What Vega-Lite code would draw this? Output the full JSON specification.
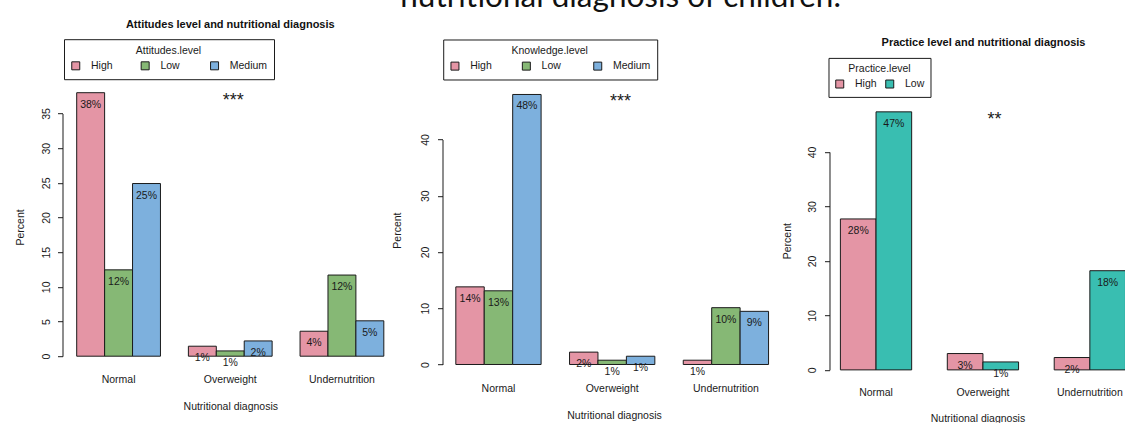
{
  "$schema": "https://vega.github.io/schema/vega-lite/v6.json",
  "background": "white",
  "padding": {"left": 15.5, "top": -38.8, "right": -1, "bottom": 2},
  "spacing": 44,
  "bounds": "flush",
  "config": {
    "font": "Liberation Sans",
    "view": {"stroke": null},
    "axis": {"labelFont": "Liberation Sans", "labelFontSize": 10.5, "labelColor": "#1a1a1a", "titleFont": "Liberation Sans", "titleFontSize": 10.5, "titleFontWeight": "normal", "titleColor": "#1a1a1a", "domainColor": "#1a1a1a", "tickColor": "#1a1a1a", "grid": false, "labelFlush": false, "labelOverlap": false},
    "legend": {"labelFont": "Liberation Sans", "labelFontSize": 10.5, "labelColor": "#1a1a1a", "titleFont": "Liberation Sans", "titleFontSize": 10.5, "titleFontWeight": "normal", "titleColor": "#1a1a1a", "strokeColor": "#1a1a1a", "symbolType": "square", "symbolSize": 64, "symbolStrokeColor": "#1a1a1a", "symbolStrokeWidth": 1, "labelOffset": 10, "titleAnchor": "middle", "titlePadding": 4, "direction": "horizontal", "orient": "none", "gridAlign": "all"},
    "title": {"font": "Liberation Sans", "fontSize": 11, "fontWeight": "bold", "color": "#111"}
  },
  "datasets": {
    "attitudes": [
      {"diagnosis": "Normal", "level": "High", "percent": 38.0, "label": "38%"},
      {"diagnosis": "Normal", "level": "Low", "percent": 12.45, "label": "12%"},
      {"diagnosis": "Normal", "level": "Medium", "percent": 24.9, "label": "25%"},
      {"diagnosis": "Overweight", "level": "High", "percent": 1.44, "label": "1%"},
      {"diagnosis": "Overweight", "level": "Low", "percent": 0.76, "label": "1%"},
      {"diagnosis": "Overweight", "level": "Medium", "percent": 2.2, "label": "2%"},
      {"diagnosis": "Undernutrition", "level": "High", "percent": 3.6, "label": "4%"},
      {"diagnosis": "Undernutrition", "level": "Low", "percent": 11.7, "label": "12%"},
      {"diagnosis": "Undernutrition", "level": "Medium", "percent": 5.1, "label": "5%"}
    ],
    "knowledge": [
      {"diagnosis": "Normal", "level": "High", "percent": 13.8, "label": "14%"},
      {"diagnosis": "Normal", "level": "Low", "percent": 13.1, "label": "13%"},
      {"diagnosis": "Normal", "level": "Medium", "percent": 48.0, "label": "48%"},
      {"diagnosis": "Overweight", "level": "High", "percent": 2.2, "label": "2%"},
      {"diagnosis": "Overweight", "level": "Low", "percent": 0.76, "label": "1%"},
      {"diagnosis": "Overweight", "level": "Medium", "percent": 1.47, "label": "1%"},
      {"diagnosis": "Undernutrition", "level": "High", "percent": 0.76, "label": "1%"},
      {"diagnosis": "Undernutrition", "level": "Low", "percent": 10.1, "label": "10%"},
      {"diagnosis": "Undernutrition", "level": "Medium", "percent": 9.45, "label": "9%"}
    ],
    "practice": [
      {"diagnosis": "Normal", "level": "High", "percent": 27.7, "label": "28%"},
      {"diagnosis": "Normal", "level": "Low", "percent": 47.35, "label": "47%"},
      {"diagnosis": "Overweight", "level": "High", "percent": 3.0, "label": "3%"},
      {"diagnosis": "Overweight", "level": "Low", "percent": 1.46, "label": "1%"},
      {"diagnosis": "Undernutrition", "level": "High", "percent": 2.27, "label": "2%"},
      {"diagnosis": "Undernutrition", "level": "Low", "percent": 18.2, "label": "18%"}
    ]
  },
  "hconcat": [
    {
      "width": 335.5, "height": 316,
      "title": {"text": "Attitudes level and nutritional diagnosis", "frame": "group", "anchor": "middle", "baseline": "middle", "offset": 17.5, "dy": 15},
      "layer": [
        {"data": {"name": "attitudes"},
         "mark": {"type": "bar", "stroke": "#1a1a1a", "strokeWidth": 1},
         "encoding": {
           "x": {"field": "diagnosis", "type": "nominal", "sort": null, "scale": {"domain": ["Normal", "Overweight", "Undernutrition"], "paddingInner": 0.25, "paddingOuter": 0.127},
                 "axis": {"title": "Nutritional diagnosis", "domain": false, "ticks": false, "tickSize": 0, "labelAngle": 0, "labelPadding": 23, "labelBaseline": "middle", "titleY": 50, "titleBaseline": "middle"}},
           "y": {"field": "percent", "type": "quantitative", "scale": {"domain": [0, 45.57], "nice": false, "zero": true},
                 "axis": {"title": "Percent", "values": [0, 5, 10, 15, 20, 25, 30, 35], "tickSize": 5, "labelAngle": 270, "labelAlign": "center", "labelBaseline": "middle", "labelPadding": 11, "domainDash": [242.7, 2000], "titleAngle": 270, "titleX": -41.8, "titleY": 186.7, "titleAlign": "center", "titleBaseline": "middle"}},
           "xOffset": {"field": "level", "type": "nominal", "scale": {"domain": ["High", "Low", "Medium"], "paddingInner": 0, "paddingOuter": 0}},
           "fill": {"field": "level", "type": "nominal", "scale": {"domain": ["High", "Low", "Medium"], "range": ["#E495A5", "#86B875", "#7DB0DD"]},
                    "legend": {"title": "Attitudes.level", "legendX": 1.5, "legendY": -1, "columns": 3, "columnPadding": 10.4, "padding": 6.5}}
         }},
        {"data": {"name": "attitudes"},
         "mark": {"type": "text", "dy": 12, "baseline": "middle", "fontSize": 10.5, "color": "#1a1a1a"},
         "encoding": {
           "x": {"field": "diagnosis", "type": "nominal", "sort": null},
           "y": {"field": "percent", "type": "quantitative"},
           "xOffset": {"field": "level", "type": "nominal"},
           "text": {"field": "label"}
         }},
        {"data": {"values": [{"sig": "***"}]},
         "mark": {"type": "text", "dx": 3, "baseline": "middle", "fontSize": 18, "color": "#1a1a1a"},
         "encoding": {"x": {"datum": "Overweight", "type": "nominal"}, "y": {"datum": 36.8, "type": "quantitative"}, "text": {"field": "sig"}}}
      ]
    },
    {
      "width": 343, "height": 324.3,
      "title": {"text": "Knowledge level and nutritional diagnosis", "frame": "group", "anchor": "middle", "baseline": "middle", "offset": 17.7, "dx": -1.8, "dy": 15},
      "layer": [
        {"data": {"name": "knowledge"},
         "mark": {"type": "bar", "stroke": "#1a1a1a", "strokeWidth": 1},
         "encoding": {
           "x": {"field": "diagnosis", "type": "nominal", "sort": null, "scale": {"domain": ["Normal", "Overweight", "Undernutrition"], "paddingInner": 0.25, "paddingOuter": 0.133, "align": 0.44},
                 "axis": {"title": "Nutritional diagnosis", "domain": false, "ticks": false, "tickSize": 0, "labelAngle": 0, "labelPadding": 23.7, "labelBaseline": "middle", "titleY": 50.7, "titleBaseline": "middle"}},
           "y": {"field": "percent", "type": "quantitative", "scale": {"domain": [0, 57.65], "nice": false, "zero": true},
                 "axis": {"title": "Percent", "values": [0, 10, 20, 30, 40], "tickSize": 5, "labelAngle": 270, "labelAlign": "center", "labelBaseline": "middle", "labelPadding": 12, "domainDash": [225, 2000], "titleAngle": 270, "titleX": -45.3, "titleY": 189.9, "titleAlign": "center", "titleBaseline": "middle"}},
           "xOffset": {"field": "level", "type": "nominal", "scale": {"domain": ["High", "Low", "Medium"], "paddingInner": 0, "paddingOuter": 0}},
           "fill": {"field": "level", "type": "nominal", "scale": {"domain": ["High", "Low", "Medium"], "range": ["#E495A5", "#86B875", "#7DB0DD"]},
                    "legend": {"title": "Knowledge.level", "legendX": 0.7, "legendY": -0.7, "columns": 3, "columnPadding": 12.4, "padding": 6.5}}
         }},
        {"data": {"name": "knowledge"},
         "mark": {"type": "text", "dy": 12, "baseline": "middle", "fontSize": 10.5, "color": "#1a1a1a"},
         "encoding": {
           "x": {"field": "diagnosis", "type": "nominal", "sort": null},
           "y": {"field": "percent", "type": "quantitative"},
           "xOffset": {"field": "level", "type": "nominal"},
           "text": {"field": "label"}
         }},
        {"data": {"values": [{"sig": "***"}]},
         "mark": {"type": "text", "dx": 8.4, "baseline": "middle", "fontSize": 18, "color": "#1a1a1a"},
         "encoding": {"x": {"datum": "Overweight", "type": "nominal"}, "y": {"datum": 46.6, "type": "quantitative"}, "text": {"field": "sig"}}},
        {"data": {"values": [{"heading": "nutritional diagnosis of children."}]},
         "mark": {"type": "text", "dx": 8.4, "baseline": "alphabetic", "align": "center", "font": "Lato", "fontSize": 31.5, "color": "#111"},
         "encoding": {"x": {"datum": "Overweight", "type": "nominal"}, "y": {"datum": 63.57, "type": "quantitative"}, "text": {"field": "heading"}}}
      ]
    },
    {
      "width": 296, "height": 329.7,
      "title": {"text": "Practice level and nutritional diagnosis", "frame": "group", "anchor": "middle", "baseline": "middle", "offset": -1.7, "dx": 6, "dy": 11.7},
      "layer": [
        {"data": {"name": "practice"},
         "mark": {"type": "bar", "stroke": "#1a1a1a", "strokeWidth": 1},
         "encoding": {
           "x": {"field": "diagnosis", "type": "nominal", "sort": null, "scale": {"domain": ["Normal", "Overweight", "Undernutrition"], "paddingInner": 0.3333, "paddingOuter": 0.051, "align": 1},
                 "axis": {"title": "Nutritional diagnosis", "domain": false, "ticks": false, "tickSize": 0, "labelAngle": 0, "labelPadding": 22.6, "labelBaseline": "middle", "titleY": 48.6, "titleBaseline": "middle"}},
           "y": {"field": "percent", "type": "quantitative", "scale": {"domain": [0, 60.5], "nice": false, "zero": true},
                 "axis": {"title": "Percent", "values": [0, 10, 20, 30, 40], "tickSize": 5, "labelAngle": 270, "labelAlign": "center", "labelBaseline": "middle", "labelPadding": 12, "domainDash": [218, 2000], "titleAngle": 270, "titleX": -42.3, "titleY": 200.5, "titleAlign": "center", "titleBaseline": "middle"}},
           "xOffset": {"field": "level", "type": "nominal", "scale": {"domain": ["High", "Low"], "paddingInner": 0, "paddingOuter": 0}},
           "fill": {"field": "level", "type": "nominal", "scale": {"domain": ["High", "Low"], "range": ["#E495A5", "#39BEB1"]},
                    "legend": {"title": "Practice.level", "legendX": -1, "legendY": 17.7, "columns": 2, "columnPadding": 6, "padding": 6}}
         }},
        {"data": {"name": "practice"},
         "mark": {"type": "text", "dy": 12, "baseline": "middle", "fontSize": 10.5, "color": "#1a1a1a"},
         "encoding": {
           "x": {"field": "diagnosis", "type": "nominal", "sort": null},
           "y": {"field": "percent", "type": "quantitative"},
           "xOffset": {"field": "level", "type": "nominal"},
           "text": {"field": "label"}
         }},
        {"data": {"values": [{"sig": "**"}]},
         "mark": {"type": "text", "dx": 11.6, "baseline": "middle", "fontSize": 18, "color": "#1a1a1a"},
         "encoding": {"x": {"datum": "Overweight", "type": "nominal"}, "y": {"datum": 45.9, "type": "quantitative"}, "text": {"field": "sig"}}}
      ]
    }
  ],
  "resolve": {"scale": {"fill": "independent", "y": "independent", "x": "independent", "xOffset": "independent"}}
}
